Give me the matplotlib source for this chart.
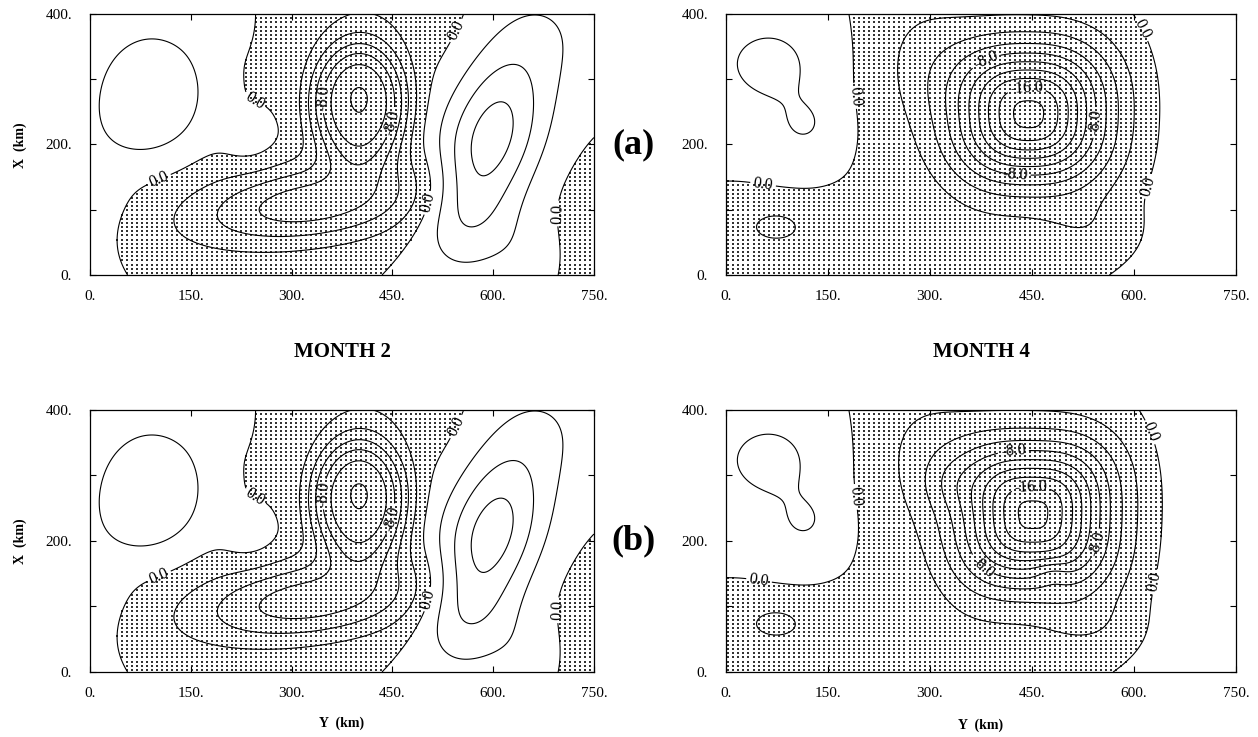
import numpy as np
import matplotlib
matplotlib.use("Agg")
from matplotlib import pyplot as plt

plt.rcParams['font.family'] = ['Liberation Serif', 'DejaVu Serif']
plt.rcParams['contour.negative_linestyle'] = 'solid'

# Eddy parameters: centre (Y, X km), strength, radii (km),
# tilt (deg), squareness q and profile p.  Field = sum of the eddies.
# MONTH 2  (P, L, B, T, N, C, D, Pt, Cb, Cc, R2, Q)
m2_yc = [92, -60, 400, 330, 420, 595, 830, 200, 550, 650, 700, 240]
m2_xc = [280, 130, 262, 110, 400, 200, 40, 400, 100, 30, 380, 195]
m2_amp = [2.6, 2.2, -11.8, -7.2, -1.5, 7.2, -3.0, 0.6, 1.2, 1.0, 1.2, 1.0]
m2_ry = [96, 100, 72, 185, 130, 150, 100, 50, 60, 60, 110, 45]
m2_rx = [114, 120, 96, 62, 100, 72, 110, 60, 80, 60, 100, 40]
m2_tilt = [0, 0, 0, 8, 0, 73, 0, 0, 0, 0, 0, 0]
m2_q = [2] * 12
m2_p = [4, 2, 3, 2, 2, 2, 2, 2, 2, 2, 2, 2]

# MONTH 4 (a)  (E, E2, G, H, S, W, K1, K2, R, J)
m4a_yc = [445, 450, 280, 250, 72, 40, 65, 115, 750, 540]
m4a_xc = [245, 260, 340, 40, 75, 330, 320, 228, 200, 70]
m4a_amp = [-16.8, -2.0, -1.8, -0.9, -2.4, 1.2, 1.8, 1.9, 1.9, -1.2]
m4a_ry = [105, 140, 80, 250, 45, 160, 55, 52, 130, 70]
m4a_rx = [100, 110, 110, 60, 27, 90, 55, 52, 400, 45]
m4a_tilt = [0] * 10
m4a_q = [2.6, 2, 2, 2, 2, 2, 2, 2, 4, 2]
m4a_p = [2] * 10

# MONTH 4 (b): same eddies plus two small ones that dent the rings
m4b_yc = [452, 450, 280, 250, 72, 40, 65, 115, 750, 540, 480, 330]
m4b_xc = [238, 260, 340, 40, 75, 330, 320, 228, 200, 70, 150, 290]
m4b_amp = [-16.8, -2.0, -1.8, -0.9, -2.4, 1.2, 1.8, 1.9, 1.9, -1.2, 1.5, -1.2]
m4b_ry = [105, 140, 80, 250, 45, 160, 55, 52, 130, 70, 25, 40]
m4b_rx = [105, 110, 110, 60, 27, 90, 55, 52, 400, 45, 20, 40]
m4b_tilt = [0] * 12
m4b_q = [3.0, 2, 2, 2, 2, 2, 2, 2, 4, 2, 2, 2]
m4b_p = [2] * 12

# contour label spots (Y, X)
m2_lab = [(99, 155), (245, 267), (345, 272), (456, 232), (471, 120), (566, 364), (708, 94)]
m4a_lab = [(187, 274), (57, 157), (371, 355), (442, 279), (555, 233), (424, 142),
           (602, 371), (638, 131)]
m4b_lab = [(196, 268), (51, 158), (421, 359), (448, 270), (543, 196), (377, 161),
           (614, 362), (643, 135)]

y_ticks = [0, 150, 300, 450, 600, 750]
x_ticks = [0, 100, 200, 300, 400]
x_ticklabels = ['0.', '', '200.', '', '400.']


def field(yy, xx, yc, xc, amp, ry, rx, tilt, q, p):
    f = np.zeros_like(yy)
    for i in range(len(amp)):
        t = np.deg2rad(tilt[i])
        dy, dx = yy - yc[i], xx - xc[i]
        u = dy * np.cos(t) + dx * np.sin(t)
        v = -dy * np.sin(t) + dx * np.cos(t)
        r = (np.abs(u / ry[i]) ** q[i] + np.abs(v / rx[i]) ** q[i]) ** (1.0 / q[i])
        f += amp[i] * np.exp(-r ** p[i])
    return f


Y, X = np.meshgrid(np.linspace(0, 750, 301), np.linspace(0, 400, 161))
dotY, dotX = np.meshgrid(np.arange(3.5, 750, 7.4), np.arange(3.0, 400, 6.4))

panels = [
    (m2_yc, m2_xc, m2_amp, m2_ry, m2_rx, m2_tilt, m2_q, m2_p, m2_lab),
    (m4a_yc, m4a_xc, m4a_amp, m4a_ry, m4a_rx, m4a_tilt, m4a_q, m4a_p, m4a_lab),
    (m2_yc, m2_xc, m2_amp, m2_ry, m2_rx, m2_tilt, m2_q, m2_p, m2_lab),
    (m4b_yc, m4b_xc, m4b_amp, m4b_ry, m4b_rx, m4b_tilt, m4b_q, m4b_p, m4b_lab),
]
rects = [
    [0.0715, 0.6269, 0.4006, 0.3541],
    [0.5771, 0.6269, 0.4054, 0.3541],
    [0.0715, 0.0882, 0.4006, 0.3555],
    [0.5771, 0.0882, 0.4054, 0.3555],
]

fig = plt.figure(figsize=(12.58, 7.37), dpi=100)

for (yc, xc, amp, ry, rx, tilt, q, p, lab), rect in zip(panels, rects):
    ax = fig.add_axes(rect)
    Z = field(Y, X, yc, xc, amp, ry, rx, tilt, q, p)
    Zd = field(dotY, dotX, yc, xc, amp, ry, rx, tilt, q, p)
    neg = Zd < 0
    ax.scatter(dotY[neg], dotX[neg], s=0.6, marker='s', c='0.2', linewidths=0)
    plain = [lv for lv in range(-20, 10, 2) if lv not in (-16, -8, 0)]
    ax.contour(Y, X, Z, levels=plain, colors='black', linewidths=0.8)
    lab_levels = [lv for lv in (-16, -8, 0) if Z.min() < lv < Z.max()]
    cs = ax.contour(Y, X, Z, levels=lab_levels, colors='black', linewidths=0.8)
    ax.clabel(cs, manual=lab, fmt='%.1f', fontsize=11.5, inline=True, inline_spacing=3)
    ax.set_xlim(0, 750)
    ax.set_ylim(0, 400)
    ax.set_xticks(y_ticks)
    ax.set_xticklabels([f'{v}.' for v in y_ticks])
    ax.set_yticks(x_ticks)
    ax.set_yticklabels(x_ticklabels)
    ax.tick_params(direction='in', length=4, width=0.8, top=True, right=True,
                   labelsize=11)
    ax.tick_params(axis='x', pad=11)
    ax.tick_params(axis='y', pad=13)
    for s in ax.spines.values():
        s.set_linewidth(0.9)

fig.text(342 / 1258, 1 - 352 / 737, 'MONTH 2', ha='center', va='center',
         fontsize=15, fontweight='bold')
fig.text(981 / 1258, 1 - 352 / 737, 'MONTH 4', ha='center', va='center',
         fontsize=15, fontweight='bold')
fig.text(634 / 1258, 1 - 145 / 737, '(a)', ha='center', va='center',
         fontsize=26, fontweight='bold')
fig.text(634 / 1258, 1 - 541 / 737, '(b)', ha='center', va='center',
         fontsize=26, fontweight='bold')
for yy in [145, 541]:
    fig.text(20 / 1258, 1 - yy / 737, 'X  (km)', ha='center', va='center',
             rotation=90, fontsize=10, fontweight='bold')
fig.text(342 / 1258, 1 - 723 / 737, 'Y  (km)', ha='center', va='center',
         fontsize=10, fontweight='bold')
fig.text(981 / 1258, 1 - 725 / 737, 'Y  (km)', ha='center', va='center',
         fontsize=10, fontweight='bold')

fig.savefig('out.png', dpi=100)
